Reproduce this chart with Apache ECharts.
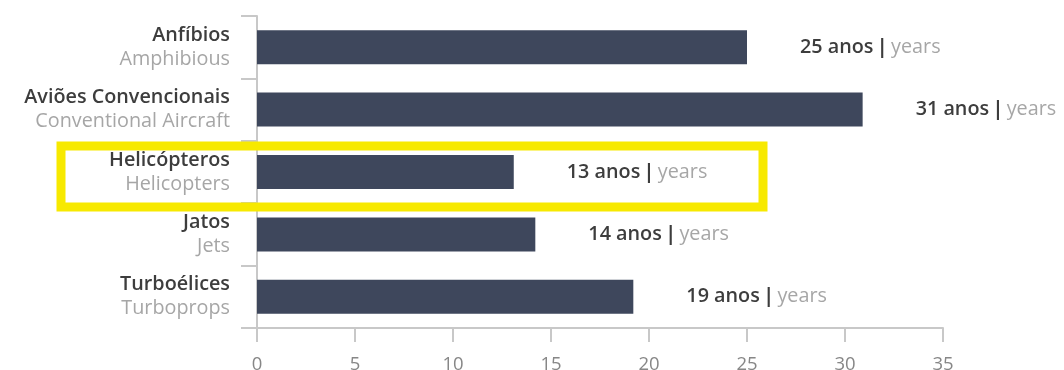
<!DOCTYPE html>
<html>
<head>
<meta charset="utf-8">
<script src="https://cdn.jsdelivr.net/npm/echarts@6/dist/echarts.min.js"></script>
<style>
  html, body { margin: 0; padding: 0; background: #fff; }
  #chart { width: 1064px; height: 370px; }
</style>
</head>
<body>
<div id="chart"></div>
<script>
const namesPt = ["Anfíbios", "Aviões Convencionais", "Helicópteros", "Jatos", "Turboélices"];
const namesEn = ["Amphibious", "Conventional Aircraft", "Helicopters", "Jets", "Turboprops"];
const ages = [25, 30.9, 13.1, 14.2, 19.2];
const ageLabels = ["25", "31", "13", "14", "19"];
const xTicks = [0, 5, 10, 15, 20, 25, 30, 35];
const highlighted = "Helicópteros";

const dark = "#3d3d3d";
const light = "#a6a6a6";
const axisGray = "#c8c8c8";
const font = "Open Sans";
const fs = 19.8;

const chart = echarts.init(document.getElementById("chart"));

chart.setOption({
  animation: false,
  grid: { left: 257, right: 121, top: 16, bottom: 42, outerBoundsMode: "none" },
  xAxis: {
    type: "value",
    min: xTicks[0],
    max: xTicks[xTicks.length - 1],
    interval: 5,
    splitLine: { show: false },
    axisLine: { show: true, lineStyle: { color: axisGray, width: 2 } },
    axisTick: { show: true, length: 14, lineStyle: { color: axisGray, width: 2 } },
    axisLabel: { color: "#878787", fontSize: 18.5, fontFamily: font, margin: 27 },
  },
  yAxis: {
    type: "category",
    inverse: true,
    data: namesPt,
    axisLine: { show: true, lineStyle: { color: axisGray, width: 2 } },
    axisTick: { show: true, length: 16, lineStyle: { color: axisGray, width: 2 } },
    axisLabel: {
      margin: 27,
      align: "right",
      formatter: (value, idx) => `{pt|${value}}\n{en|${namesEn[idx]}}`,
      rich: {
        pt: { color: dark, fontSize: fs, fontWeight: 600, fontFamily: font, lineHeight: 24, align: "right" },
        en: { color: light, fontSize: fs, fontFamily: font, lineHeight: 24, align: "right" },
      },
    },
  },
  series: [
    {
      type: "bar",
      data: ages,
      barWidth: 34,
      itemStyle: { color: "#3e475c" },
      label: {
        show: true,
        position: "right",
        distance: 53,
        formatter: (p) => `{n|${ageLabels[p.dataIndex]} anos} {s||} {y|years}`,
        rich: {
          n: { color: dark, fontSize: fs, fontWeight: 600, fontFamily: font },
          s: { color: dark, fontSize: fs, fontWeight: 700, fontFamily: font },
          y: { color: light, fontSize: fs, fontFamily: font },
        },
      },
    },
  ],
});

// yellow highlight box around the helicopters row
const hIdx = namesPt.indexOf(highlighted);
const cy = chart.convertToPixel({ yAxisIndex: 0 }, hIdx);
chart.setOption({
  graphic: [
    {
      type: "rect",
      shape: { x: 61, y: cy - 26, width: 702, height: 61 },
      style: { fill: "none", stroke: "#f7e900", lineWidth: 9 },
      z: 10,
    },
  ],
});
</script>
</body>
</html>
